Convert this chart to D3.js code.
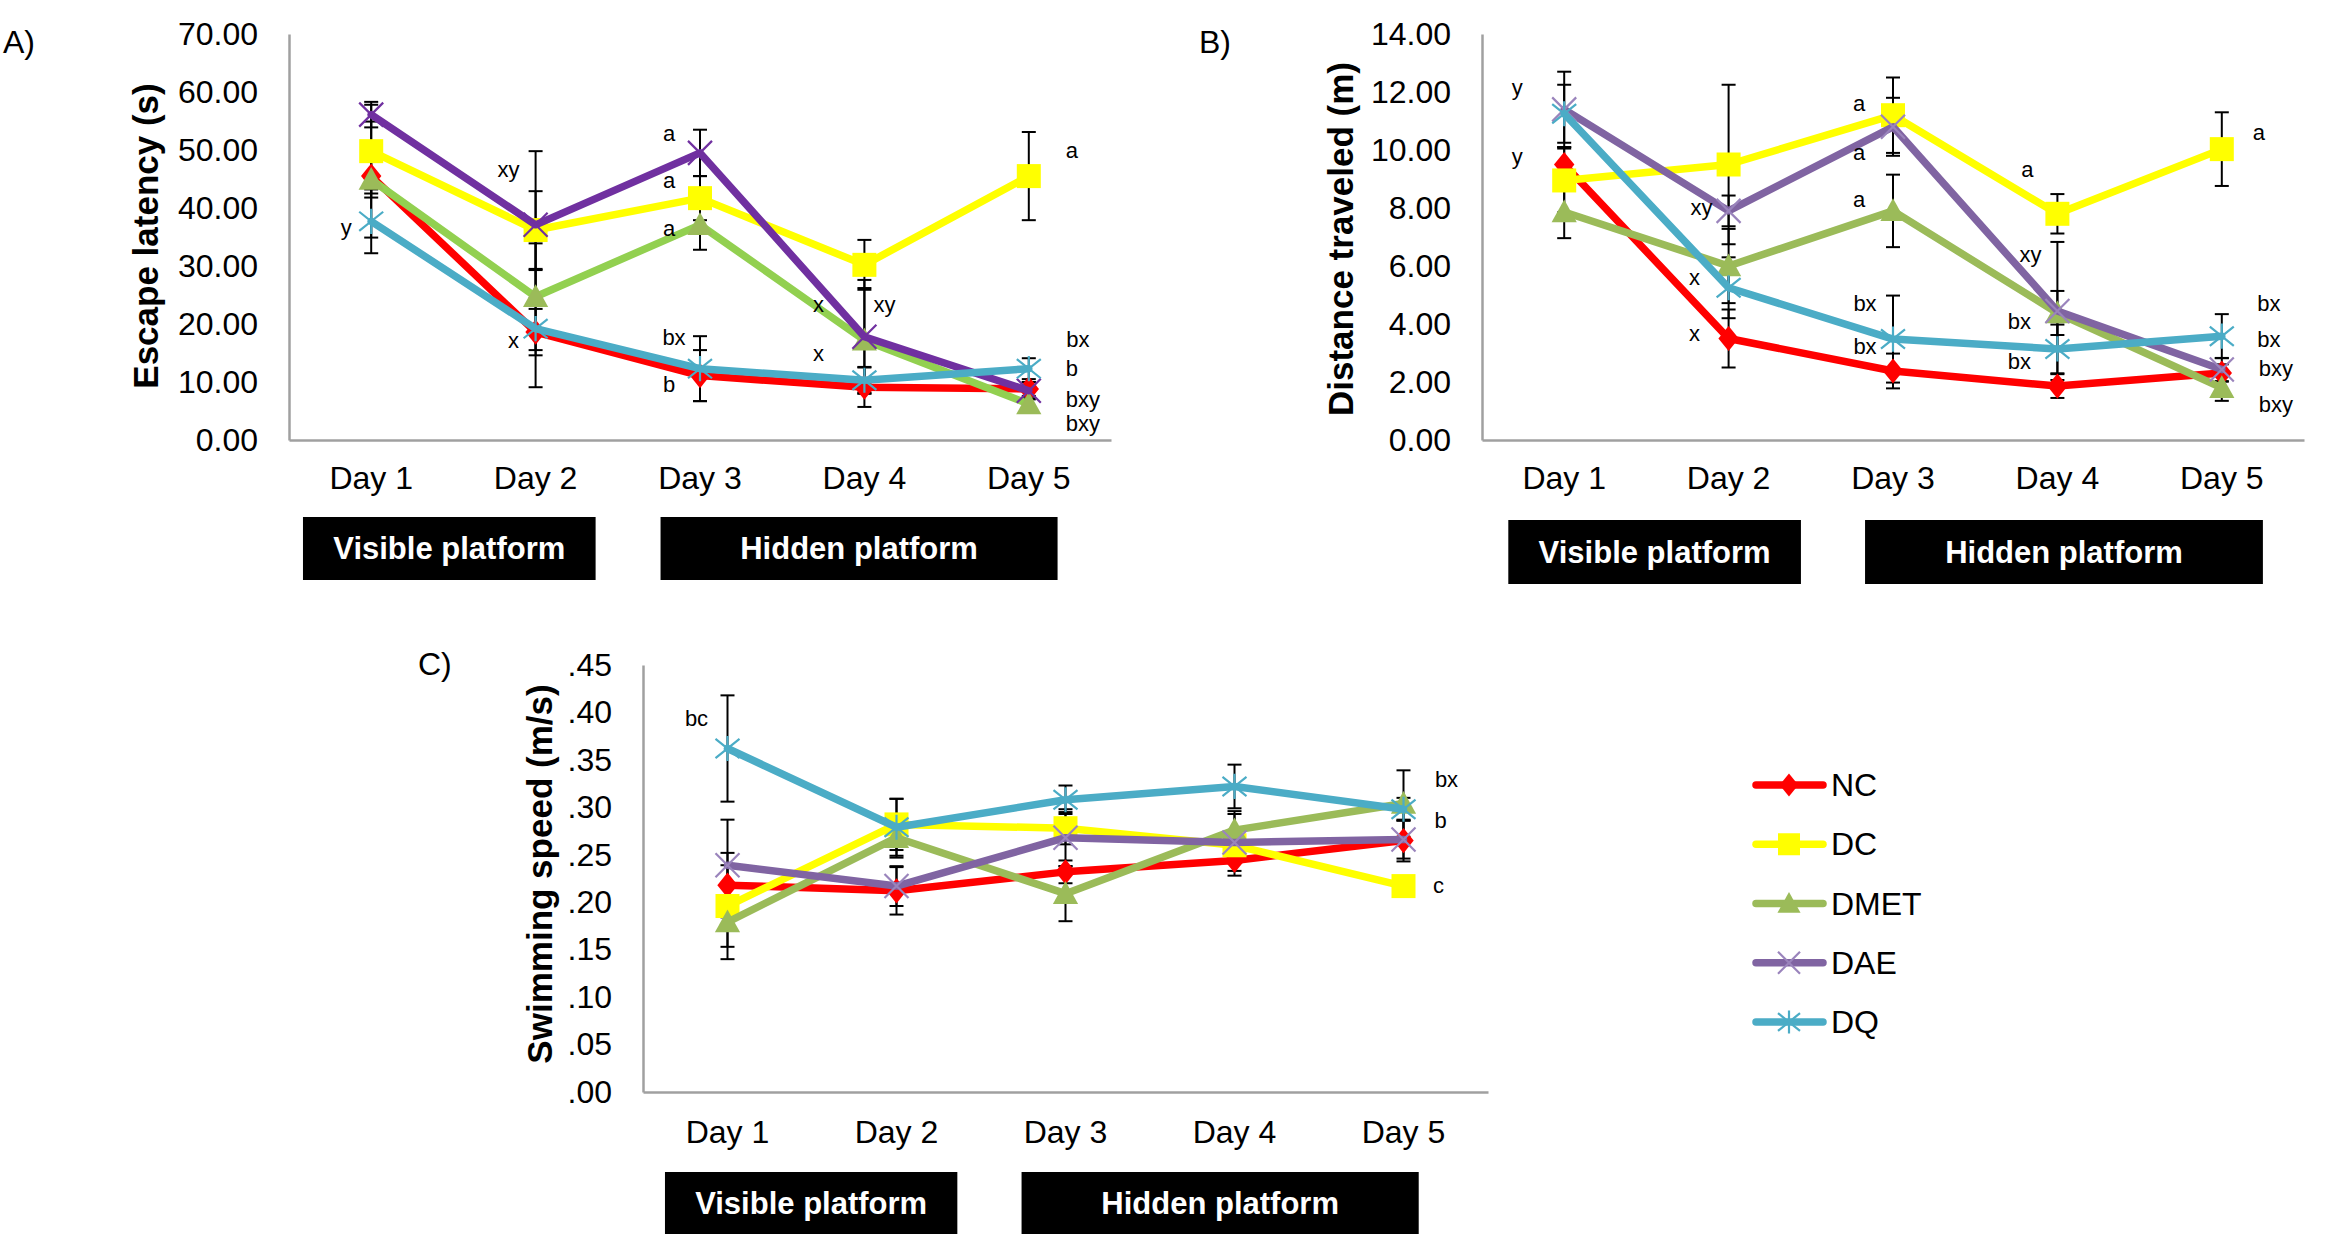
<!DOCTYPE html>
<html><head><meta charset="utf-8">
<script src="https://cdn.jsdelivr.net/npm/d3@7"></script>
<style>
body{margin:0;background:#fff}
text{font-family:"Liberation Sans",Arial,Helvetica,sans-serif;fill:#000}
</style>
</head><body>
<svg id="chart" width="2343" height="1237"></svg>
<script>
// ---------- DATA ----------
const days = ["Day 1","Day 2","Day 3","Day 4","Day 5"];
const groups = ["NC","DC","DMET","DAE","DQ"];

// A) Escape latency (s)
const latencyNC   = [45.5, 18.6, 11.1, 9.1, 8.8];
const latencyDC   = [49.8, 36.2, 41.7, 30.2, 45.5];
const latencyDMET = [44.9, 24.7, 37.1, 17.2, 6.2];
const latencyDAE  = [56.1, 37.1, 49.5, 17.8, 8.5];
const latencyDQ   = [37.7, 19.2, 12.3, 10.3, 12.3];
const latencyErrNC   = [3.0, 4.0, 4.4, 3.4, 1.2];
const latencyErrDC   = [8.0, 6.7, 3.8, 4.3, 7.6];
const latencyErrDMET = [10.0, 9.2, 4.3, 9.0, 1.0];
const latencyErrDAE  = [2.2, 12.7, 4.0, 9.8, 1.5];
const latencyErrDQ   = [5.5, 10.1, 5.6, 2.3, 1.8];
const latencyTicks = [0,10,20,30,40,50,60,70];

// B) Distance traveled (m)
const distNC   = [9.5, 3.5, 2.38, 1.86, 2.31];
const distDC   = [8.95, 9.5, 11.2, 7.8, 10.03];
const distDMET = [7.86, 6.0, 7.9, 4.38, 1.8];
const distDAE  = [11.4, 7.9, 10.8, 4.45, 2.43];
const distDQ   = [11.25, 5.25, 3.48, 3.14, 3.58];
const distErrNC   = [0.6, 1.0, 0.6, 0.41, 0.3];
const distErrDC   = [1.1, 2.75, 1.3, 0.68, 1.27];
const distErrDMET = [0.9, 1.28, 1.25, 0.76, 0.45];
const distErrDAE  = [1.3, 0.53, 1.0, 2.38, 0.4];
const distErrDQ   = [1.0, 1.05, 1.5, 0.84, 0.76];
const distTicks = [0,2,4,6,8,10,12,14];

// C) Swimming speed (m/s)
const speedNC   = [0.218, 0.212, 0.232, 0.244, 0.265];
const speedDC   = [0.196, 0.282, 0.278, 0.260, 0.217];
const speedDMET = [0.179, 0.268, 0.209, 0.276, 0.304];
const speedDAE  = [0.239, 0.217, 0.268, 0.263, 0.266];
const speedDQ   = [0.362, 0.279, 0.308, 0.322, 0.298];
const speedErrNC   = [0.034, 0.025, 0.012, 0.016, 0.022];
const speedErrDC   = [0.043, 0.027, 0.017, 0.015, 0.010];
const speedErrDMET = [0.039, 0.021, 0.029, 0.020, 0.035];
const speedErrDAE  = [0.048, 0.021, 0.030, 0.030, 0.020];
const speedErrDQ   = [0.056, 0.030, 0.015, 0.023, 0.012];
const speedTicks = [0,0.05,0.10,0.15,0.20,0.25,0.30,0.35,0.40,0.45];

// significance letters: [text, day, value-level]
const lettersA = [["y","Day 1",36.7],["xy","Day 2",46.6],["x","Day 2",17.1],
  ["a","Day 3",52.8],["a","Day 3",44.8],["a","Day 3",36.4],["bx","Day 3",17.6],["b","Day 3",9.5],
  ["x","Day 4",23.4],["xy","Day 4",23.4],["x","Day 4",15.0],
  ["a","Day 5",50.0],["bx","Day 5",17.4],["b","Day 5",12.4],["bxy","Day 5",6.9],["bxy","Day 5",2.9]];
const lettersB = [["y","Day 1",12.17],["y","Day 1",9.76],["xy","Day 2",8.03],["x","Day 2",5.62],["x","Day 2",3.66],
  ["a","Day 3",11.59],["a","Day 3",9.93],["a","Day 3",8.28],["bx","Day 3",4.69],["bx","Day 3",3.21],
  ["a","Day 4",9.34],["xy","Day 4",6.41],["bx","Day 4",4.10],["bx","Day 4",2.72],
  ["a","Day 5",10.62],["bx","Day 5",4.72],["bx","Day 5",3.48],["bxy","Day 5",2.48],["bxy","Day 5",1.21]];
const lettersC = [["bc","Day 1",0.394],["bx","Day 5",0.329],["b","Day 5",0.286],["c","Day 5",0.218]];
const phaseLabels = ["Visible platform","Hidden platform"];

// ---------- LAYOUT / STYLE ----------
const letterDxA = [-25,-27,-22,-31,-31,-31,-26,-31,-46,20,-46,43,49,43,54,54];
const letterDxB = [-47,-47,-27,-34,-34,-34,-34,-34,-28,-28,-30,-27,-38,-38,37,47,47,54,54];
const letterDxC = [-31,43,37,35];

const colorsStd = {NC:"#FF0000",DC:"#FFFF00",DMET:"#9BBB59",DAE:"#8064A2",DQ:"#4BACC6"};
const markerStd = {NC:"#FF0000",DC:"#FFFF00",DMET:"#9BBB59",DAE:"#9A84BC",DQ:"#4BACC6"};
const colorsA = {NC:"#FF0000",DC:"#FFFF00",DMET:"#92D050",DAE:"#7030A0",DQ:"#4BACC6"};
const markerA = {NC:"#FF0000",DC:"#FFFF00",DMET:"#9BBB59",DAE:"#7030A0",DQ:"#4BACC6"};
const shapes = {NC:"diamond",DC:"square",DMET:"triangle",DAE:"x",DQ:"asterisk"};

const fmt2 = d3.format(".2f");
const fmtDot = v => d3.format(".2f")(v).replace(/^0/,"");

const panels = [
  {label:"A)", lx:3, ly:42, title:"Escape latency (s)", tx:145, ty:236,
   x0:289, x1:1111, yTop:34, yBot:440, yMax:70, ticks:latencyTicks, fmt:fmt2, dayOff:56,
   values:[latencyNC,latencyDC,latencyDMET,latencyDAE,latencyDQ],
   errs:[latencyErrNC,latencyErrDC,latencyErrDMET,latencyErrDAE,latencyErrDQ],
   letters:lettersA, dx:letterDxA, colors:colorsA, mcolors:markerA,
   boxY:517, boxH:63, boxes:[[0,0.085,1,0.865],[2,0.26,4,0.675]]},
  {label:"B)", lx:1199, ly:42, title:"Distance traveled (m)", tx:1340, ty:239,
   x0:1482, x1:2304, yTop:34, yBot:440, yMax:14, ticks:distTicks, fmt:fmt2, dayOff:56,
   values:[distNC,distDC,distDMET,distDAE,distDQ],
   errs:[distErrNC,distErrDC,distErrDMET,distErrDAE,distErrDQ],
   letters:lettersB, dx:letterDxB, colors:colorsStd, mcolors:markerStd,
   boxY:520, boxH:64, boxes:[[0,0.16,1,0.94],[2,0.33,4,0.75]]},
  {label:"C)", lx:418, ly:664, title:"Swimming speed (m/s)", tx:539, ty:874,
   x0:643, x1:1488, yTop:665, yBot:1092, yMax:0.45, ticks:speedTicks, fmt:fmtDot, dayOff:58,
   values:[speedNC,speedDC,speedDMET,speedDAE,speedDQ],
   errs:[speedErrNC,speedErrDC,speedErrDMET,speedErrDAE,speedErrDQ],
   letters:lettersC, dx:letterDxC, colors:colorsStd, mcolors:markerStd,
   boxY:1172, boxH:62, boxes:[[0,0.13,1,0.86],[2,0.24,4,0.59]]}
];

const svg = d3.select("#chart");

function drawMarker(g, shape, color, cx, cy, s){
  const m = g.append("g").attr("transform",`translate(${cx},${cy})`);
  if(shape==="diamond"){
    m.append("path").attr("d",`M0,${-s*1.05}L${s*0.85},0L0,${s*1.05}L${-s*0.85},0Z`).attr("fill",color);
  } else if(shape==="square"){
    m.append("rect").attr("x",-s).attr("y",-s).attr("width",2*s).attr("height",2*s).attr("fill",color);
  } else if(shape==="triangle"){
    m.append("path").attr("d",`M0,${-s*1.05}L${s*1.05},${s*0.85}L${-s*1.05},${s*0.85}Z`).attr("fill",color);
  } else if(shape==="x"){
    m.append("path").attr("d",`M${-s},${-s}L${s},${s}M${-s},${s}L${s},${-s}`)
      .attr("stroke",color).attr("stroke-width",2.2).attr("fill","none");
  } else if(shape==="asterisk"){
    m.append("path").attr("d",`M${-s},${-s*0.8}L${s},${s*0.8}M${-s},${s*0.8}L${s},${-s*0.8}M0,${-s*1.05}L0,${s*1.05}`)
      .attr("stroke",color).attr("stroke-width",2.2).attr("fill","none");
  }
}

panels.forEach(p => {
  const g = svg.append("g");
  const x = d3.scaleBand().domain(days).range([p.x0,p.x1]);
  const bw = x.bandwidth();
  const cx = d => x(d) + bw/2;
  const y = d3.scaleLinear().domain([0,p.yMax]).range([p.yBot,p.yTop]);

  // axes
  const ya = g.append("g").attr("transform",`translate(${p.x0},0)`)
    .call(d3.axisLeft(y).tickValues(p.ticks).tickFormat(p.fmt).tickSize(0).tickPadding(31));
  ya.select(".domain").attr("stroke","#A0A0A0").attr("stroke-width",2.5);
  ya.selectAll("text").attr("font-size",32).attr("font-family",null).attr("fill","#000");

  const xa = g.append("g").attr("transform",`translate(0,${p.yBot})`)
    .call(d3.axisBottom(x).tickSize(0).tickPadding(p.dayOff-30));
  xa.select(".domain").attr("stroke","#A0A0A0").attr("stroke-width",2.5);
  xa.selectAll("text").attr("font-size",32).attr("font-family",null).attr("fill","#000");

  // panel label & title
  g.append("text").attr("x",p.lx).attr("y",p.ly).attr("dominant-baseline","central")
    .attr("font-size",32).text(p.label);
  g.append("text").attr("transform",`translate(${p.tx},${p.ty}) rotate(-90)`)
    .attr("text-anchor","middle").attr("dominant-baseline","central")
    .attr("font-size",35).attr("font-weight","bold").text(p.title);

  // error bars
  const eb = g.append("g").attr("stroke","#000").attr("stroke-width",2);
  p.values.forEach((vals,si) => {
    vals.forEach((v,di) => {
      const e = p.errs[si][di], X = cx(days[di]);
      eb.append("line").attr("x1",X).attr("x2",X).attr("y1",y(v+e)).attr("y2",y(v-e));
      eb.append("line").attr("x1",X-7).attr("x2",X+7).attr("y1",y(v+e)).attr("y2",y(v+e));
      eb.append("line").attr("x1",X-7).attr("x2",X+7).attr("y1",y(v-e)).attr("y2",y(v-e));
    });
  });

  // series
  const line = d3.line().x((d,i)=>cx(days[i])).y(d=>y(d));
  groups.forEach((name,si) => {
    const vals = p.values[si];
    g.append("path").datum(vals).attr("d",line).attr("fill","none")
      .attr("stroke",p.colors[name]).attr("stroke-width",7.5)
      .attr("stroke-linejoin","round").attr("stroke-linecap","round");
    vals.forEach((v,di) => drawMarker(g, shapes[name], p.mcolors[name], cx(days[di]), y(v), 12));
  });

  // letters
  p.letters.forEach((l,i) => {
    g.append("text").attr("x",cx(l[1]) + p.dx[i]).attr("y",y(l[2]))
      .attr("text-anchor","middle").attr("dominant-baseline","central")
      .attr("font-size",22).text(l[0]);
  });

  // phase boxes
  p.boxes.forEach((b,i) => {
    const bx0 = x(days[b[0]]) + bw*b[1], bx1 = x(days[b[2]]) + bw*b[3];
    g.append("rect").attr("x",bx0).attr("y",p.boxY).attr("width",bx1-bx0).attr("height",p.boxH).attr("fill","#000");
    g.append("text").attr("x",(bx0+bx1)/2).attr("y",p.boxY+p.boxH/2)
      .attr("text-anchor","middle").attr("dominant-baseline","central")
      .attr("font-size",31).attr("font-weight","bold").style("fill","#fff").text(phaseLabels[i]);
  });
});

// legend
const legY = d3.scalePoint().domain(groups).range([785,1022]);
const lg = svg.append("g");
groups.forEach(name => {
  const yy = legY(name);
  lg.append("line").attr("x1",1756).attr("x2",1823).attr("y1",yy).attr("y2",yy)
    .attr("stroke",colorsStd[name]).attr("stroke-width",7.5).attr("stroke-linecap","round");
  drawMarker(lg, shapes[name], markerStd[name], 1789, yy, 11);
  lg.append("text").attr("x",1831).attr("y",yy).attr("dominant-baseline","central")
    .attr("font-size",32).text(name);
});
</script>
</body></html>
